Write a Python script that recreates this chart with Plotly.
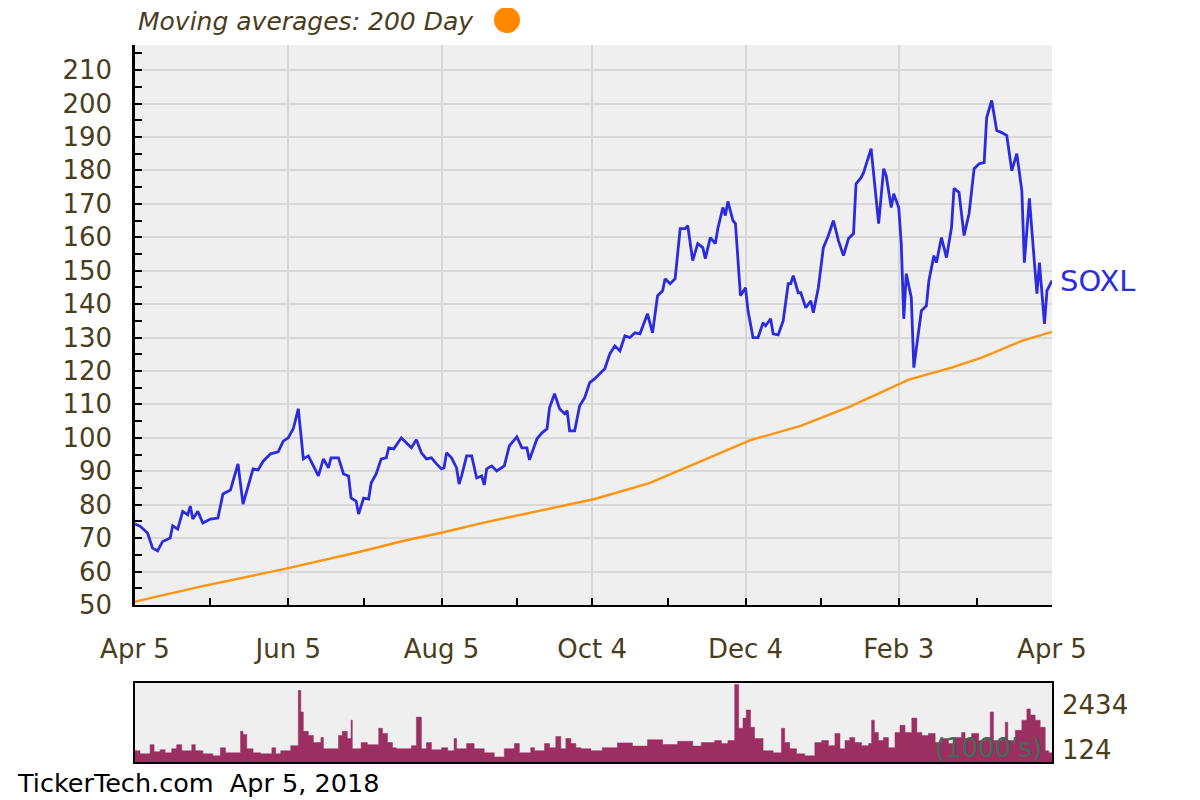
import plotly.graph_objects as go
import pandas as pd

start = pd.Timestamp("2017-04-05")
end = pd.Timestamp("2018-04-05")

# SOXL closing price (days since 2017-04-05, value)
price_days = [0, 2, 5, 7, 9, 11, 14, 15, 17, 19, 21, 22, 23, 25, 27, 30, 33, 35, 38, 41,
              43, 47, 49, 51, 54, 57, 59, 61, 63, 65, 67, 69, 71, 73, 75, 77, 78, 81, 83, 85,
              86, 88, 89, 91, 93, 94, 96, 98, 100, 101, 103, 106, 108, 110, 112, 114, 116, 118, 120, 122,
              123, 124, 126, 128, 129, 130, 132, 134, 136, 138, 139, 140, 142, 144, 147, 149, 152, 154, 156, 157,
              160, 162, 164, 165, 167, 169, 171, 172, 173, 175, 177, 179, 181, 183, 185, 187, 189, 191, 193, 195,
              197, 199, 201, 204, 206, 208, 210, 211, 213, 215, 217, 219, 220, 222, 224, 226, 227, 229, 231, 232,
              234, 235, 236, 238, 239, 241, 243, 244, 246, 248, 250, 251, 253, 254, 256, 258, 260, 261, 262, 264,
              265, 267, 269, 270, 272, 274, 276, 278, 280, 282, 284, 286, 287, 289, 290, 292, 293, 296, 298, 299,
              301, 302, 304, 305, 306, 307, 309, 310, 312, 313, 315, 316, 318, 319, 321, 323, 325, 326, 328, 330,
              332, 334, 336, 338, 339, 341, 343, 345, 347, 349, 351, 353, 354, 356, 358, 359, 360, 362, 363, 365]
price_vals = [74.2, 73.6, 71.5, 67.0, 66.2, 69.0, 70.0, 73.7, 72.7, 78.0, 77.0, 79.6, 75.7, 78.0, 74.5, 75.7, 76.0, 83.2, 84.4, 92.2,
              80.2, 90.7, 90.4, 93.0, 95.2, 95.8, 99.0, 100.0, 102.7, 108.7, 93.7, 94.6, 91.6, 88.6, 93.7, 91.0, 94.0, 94.0, 89.2, 88.6,
              82.0, 81.1, 77.2, 82.0, 81.7, 86.5, 89.2, 93.7, 94.0, 97.0, 96.7, 100.0, 98.5, 97.0, 99.4, 95.5, 93.7, 94.0, 92.2, 90.7,
              91.0, 95.5, 94.0, 91.0, 86.2, 88.6, 94.6, 94.6, 88.0, 88.6, 85.9, 90.7, 91.6, 90.1, 91.6, 97.6, 100.3, 97.0, 97.0, 93.4,
              99.7, 101.5, 102.7, 109.0, 113.2, 108.7, 107.2, 108.1, 102.1, 102.1, 109.6, 112.0, 116.5, 117.7, 119.2, 120.7, 125.1, 127.5, 126.0, 130.5,
              130.0, 131.4, 131.1, 137.1, 131.4, 142.5, 144.0, 147.6, 146.1, 147.6, 162.6, 162.6, 163.5, 153.0, 158.1, 156.9, 153.6, 159.9, 158.1, 162.6,
              168.9, 166.5, 170.7, 165.0, 164.1, 142.5, 144.9, 138.0, 130.0, 130.0, 134.4, 133.5, 135.6, 131.1, 130.8, 135.0, 146.1, 146.1, 148.5, 143.4,
              143.4, 138.9, 141.0, 137.4, 144.9, 156.9, 160.5, 165.0, 159.0, 154.5, 159.6, 161.1, 176.0, 177.8, 179.3, 183.8, 186.5, 164.1, 180.5, 178.4,
              168.9, 173.0, 168.9, 158.1, 135.6, 149.1, 141.9, 121.0, 132.9, 138.0, 139.5, 147.0, 154.5, 152.4, 159.9, 153.9, 162.9, 174.6, 173.4, 160.5,
              167.1, 180.5, 182.0, 182.3, 195.8, 200.9, 191.9, 191.3, 190.4, 179.9, 185.0, 173.9, 152.4, 171.6, 152.4, 143.1, 152.4, 134.1, 144.0, 147.0]

# 200-day moving average
ma_days = [0, 26, 61, 90, 107, 122, 138, 154, 170, 183, 205, 225, 245, 265, 285, 308, 325, 337, 353, 365]
ma_vals = [51.0, 55.5, 61.0, 66.0, 69.2, 71.6, 74.5, 77.0, 79.5, 81.7, 86.5, 93.0, 99.3, 103.6, 109.5, 117.4, 121.0, 124.0, 129.0, 131.7]

# Volume (thousands), step values starting at given day
vol_days = [0, 2, 6, 7.6, 10, 12, 14.6, 16.6, 18.6, 22.6, 24, 27, 31, 34, 36, 42, 43, 44.5, 47, 50,
            54.5, 56, 58, 62, 65, 66, 67, 69, 71, 74, 75, 81, 82.5, 84.5, 86, 86.5, 90, 92.5, 97, 98.5,
            100.5, 102.5, 104, 110, 112, 114, 116, 118, 122, 124.5, 127, 128, 132, 135, 139, 143, 147, 151, 153, 157.5,
            159, 163, 165, 167.5, 169.5, 171.5, 173.5, 175.5, 177.5, 181.5, 186, 192, 198, 204, 210, 216, 222,
            225.4, 230.7, 233.4, 236, 238.7, 240.3, 242, 243.3, 245, 246.6, 250, 254, 257.3, 258.6, 260.6, 263.3, 266.6, 270.6, 273.3,
            276, 278.6, 280.6, 282.6, 284.5, 286.5, 289.2, 292, 293.2, 294.3, 295.9, 297.9, 299.9, 302.5, 304.5, 306.5, 309.2, 311.2, 313.2,
            315.8, 318.5, 321, 323.8, 326.4, 329, 330.4, 333, 335.8, 338.4, 340.4, 341.7, 345, 346.4, 347.4, 350.4, 353, 355, 356.4,
            358.3, 360.3, 362.3, 363.7]
vol_vals = [353, 257, 546, 321, 385, 289, 417, 546, 353, 546, 353, 257, 193, 449, 289, 963, 867, 417, 289, 257,
            449, 257, 353, 514, 2247, 1573, 963, 835, 610, 770, 417, 835, 963, 738, 1316, 417, 610, 546, 1059, 899,
            610, 449, 417, 514, 1412, 417, 610, 385, 449, 353, 738, 417, 578, 417, 289, 160, 417, 578, 289, 449,
            353, 578, 449, 803, 417, 738, 578, 449, 417, 353, 450, 600, 500, 700, 550, 650, 500,
            610, 674, 578, 674, 2434, 1059, 1380, 1637, 1091, 738, 353, 289, 1059, 610, 417, 257, 193, 610, 674,
            514, 899, 417, 674, 770, 610, 514, 578, 1316, 931, 674, 770, 449, 931, 1155, 931, 1380, 931, 835,
            899, 610, 738, 578, 770, 931, 738, 899, 674, 770, 1573, 674, 770, 1252, 674, 995, 1316, 1669, 1476,
            1316, 1091, 353, 289]
vol_max_label = "2434"
vol_min_label = "124"

tick_dates = ["2017-04-05", "2017-06-05", "2017-08-05", "2017-10-04", "2017-12-04", "2018-02-03", "2018-04-05"]
tick_labels = ["Apr 5", "Jun 5", "Aug 5", "Oct 4", "Dec 4", "Feb 3", "Apr 5"]
minor_dates = ["2017-05-05", "2017-07-05", "2017-09-04", "2017-11-03", "2018-01-03", "2018-03-06"]
y_ticks = list(range(50, 211, 10))

to_date = lambda ds: [start + pd.Timedelta(days=float(d)) for d in ds]

LABEL = "#4a3d1c"
FONT = "DejaVu Sans, Verdana, sans-serif"

fig = go.Figure()
fig.add_trace(go.Scatter(x=to_date(ma_days), y=ma_vals, mode="lines",
                         line=dict(color="#ff9410", width=2.4), xaxis="x", yaxis="y", hoverinfo="skip"))
fig.add_trace(go.Scatter(x=to_date(price_days), y=price_vals, mode="lines",
                         line=dict(color="#2b2be0", width=2.8), xaxis="x", yaxis="y"))
vx = to_date(vol_days) + [end]
vy = vol_vals + [vol_vals[-1]]
fig.add_trace(go.Scatter(x=vx, y=vy, mode="lines", line_shape="hv", fill="tozeroy",
                         fillcolor="#9b2f62", line=dict(color="#9b2f62", width=0.5),
                         xaxis="x2", yaxis="y2"))

fig.update_layout(
    width=1200, height=800, showlegend=False,
    margin=dict(l=127, r=156, t=37, b=46),
    paper_bgcolor="white", plot_bgcolor="#efefef",
    font=dict(family=FONT, color=LABEL),
    xaxis=dict(domain=[0, 1], anchor="y", type="date", range=[start, end],
               tickvals=tick_dates, ticktext=tick_labels,
               ticks="inside", ticklen=7, tickwidth=2, tickcolor="black",
               showline=True, linecolor="black", linewidth=2,
               showgrid=True, gridcolor="#d8d8d8", gridwidth=2, zeroline=False,
               tickfont=dict(size=26, color=LABEL), ticklabelstandoff=20,
               minor=dict(tickvals=minor_dates, ticks="inside", ticklen=7, tickwidth=2,
                          tickcolor="black", showgrid=False)),
    yaxis=dict(domain=[0.219, 1], anchor="x", range=[50, 217.5],
               tickvals=y_ticks, ticks="inside", ticklen=7, tickwidth=2, tickcolor="black",
               showline=True, linecolor="black", linewidth=2.5,
               showgrid=True, gridcolor="#d8d8d8", gridwidth=2, zeroline=False,
               tickfont=dict(size=26, color=LABEL), ticklabelstandoff=15,
               minor=dict(dtick=5, ticks="inside", ticklen=7, tickwidth=2,
                          tickcolor="black", showgrid=False)),
    xaxis2=dict(domain=[0, 1], anchor="y2", type="date", range=[start, end],
                showticklabels=False, ticks="", showgrid=False, zeroline=False,
                showline=True, mirror=True, linecolor="black", linewidth=2),
    yaxis2=dict(domain=[0, 0.110], anchor="x2", range=[0, 2480],
                showticklabels=False, ticks="", showgrid=False, zeroline=False,
                showline=True, mirror=True, linecolor="black", linewidth=2),
)

# 200-day marker dot in legend
fig.add_shape(type="circle", xref="paper", yref="paper",
              xsizemode="pixel", ysizemode="pixel",
              xanchor=(507 - 135) / 917, yanchor=1 + (45 - 20) / 717,
              x0=-13, x1=13, y0=-13, y1=13,
              fillcolor="#ff8800", line=dict(width=0))

annos = [
    dict(text="<i>Moving averages: 200 Day</i>", x=0.001, y=1 + (45 - 22) / 717,
         xanchor="left", yanchor="middle", font=dict(size=25, color=LABEL)),
    dict(text="SOXL", x=(1058 - 135) / 917, y=1 - (281 - 45) / 717,
         xanchor="left", yanchor="middle", font=dict(size=29, color="#2b2be0")),
    dict(text=vol_max_label, x=(1060 - 135) / 917, y=1 - (705 - 45) / 717,
         xanchor="left", yanchor="middle", font=dict(size=26, color=LABEL)),
    dict(text=vol_min_label, x=(1060 - 135) / 917, y=1 - (750 - 45) / 717,
         xanchor="left", yanchor="middle", font=dict(size=26, color=LABEL)),
    dict(text="(1000's)", x=(988 - 135) / 917, y=1 - (748 - 45) / 717,
         xanchor="center", yanchor="middle", font=dict(size=26, color="#3b6e52")),
    dict(text="TickerTech.com  Apr 5, 2018", x=(15 - 135) / 917, y=1 - (783 - 45) / 717,
         xanchor="left", yanchor="middle", font=dict(size=25.5, color="black")),
]
for a in annos:
    fig.add_annotation(xref="paper", yref="paper", showarrow=False, **a)

fig.write_html("out.html")
